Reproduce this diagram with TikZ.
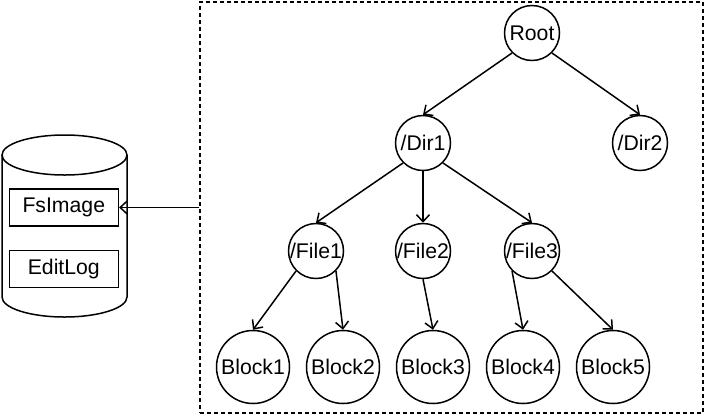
\documentclass[tikz,border=0pt]{standalone}
\usepackage{fontspec}
\setmainfont{Liberation Sans}
\usetikzlibrary{arrows.meta}

\begin{document}
\begin{tikzpicture}[x=1bp, y=-1bp, line width=1.5bp,
  >={Straight Barb[length=7bp,width=13bp]},
  every node/.style={font=\fontsize{21.3}{24}\selectfont},
  dirnode/.style={circle, draw, minimum size=55bp, inner sep=0pt},
  blocknode/.style={circle, draw, minimum size=73bp, inner sep=0pt},
  imgbox/.style={draw, minimum width=109bp, minimum height=37bp, inner sep=0pt}]

\useasboundingbox (0,0) rectangle (704,416);

% NameNode disk
\draw (2,155) -- (2,297) arc (180:0:62.5 and 20) -- (127,155);
\draw (64.5,155) ellipse (62.5 and 20);
\node[imgbox] (FsImage) at (63.8,207.5) {FsImage};
\node[imgbox] (EditLog) at (63.8,268.8) {EditLog};

% namespace tree
\node[draw, dash pattern=on 4bp off 3bp, minimum width=503bp, minimum height=411bp, inner sep=0pt] (NameSpace) at (451.5,207.5) {};

\node[dirnode] (Root) at (532,33) {Root};
\node[dirnode] (Dir1) at (423,143) {/Dir1};
\node[dirnode] (Dir2) at (640,143) {/Dir2};

\node[dirnode] (File1) at (316,251) {/File1};
\node[dirnode] (File2) at (423,251) {/File2};
\node[dirnode] (File3) at (532,251) {/File3};

\node[blocknode] (Block1) at (253,367) {Block1};
\node[blocknode] (Block2) at (343,367) {Block2};
\node[blocknode] (Block3) at (433,367) {Block3};
\node[blocknode] (Block4) at (523,367) {Block4};
\node[blocknode] (Block5) at (613,367) {Block5};

\draw [->] (Root.south west) -- (Dir1.north);
\draw [->] (Root.south east) -- (Dir2.north);

\draw [->] (Dir1.south west) -- (File1.north);
\draw [->] (Dir1.south) -- (File2.north);
\draw [->] (Dir1.south east) -- (File3.north);

\draw [->] (File1.south west) -- (Block1.north);
\draw [->] (File1.south east) -- (Block2.north);
\draw [->] (File2.south) -- (Block3.north);
\draw [->] (File3.south west) -- (Block4.north);
\draw [->] (File3.south east) -- (Block5.north);

% image is loaded from the namespace
\draw [->] (NameSpace.west) -- (FsImage.east);

\end{tikzpicture}
\end{document}
